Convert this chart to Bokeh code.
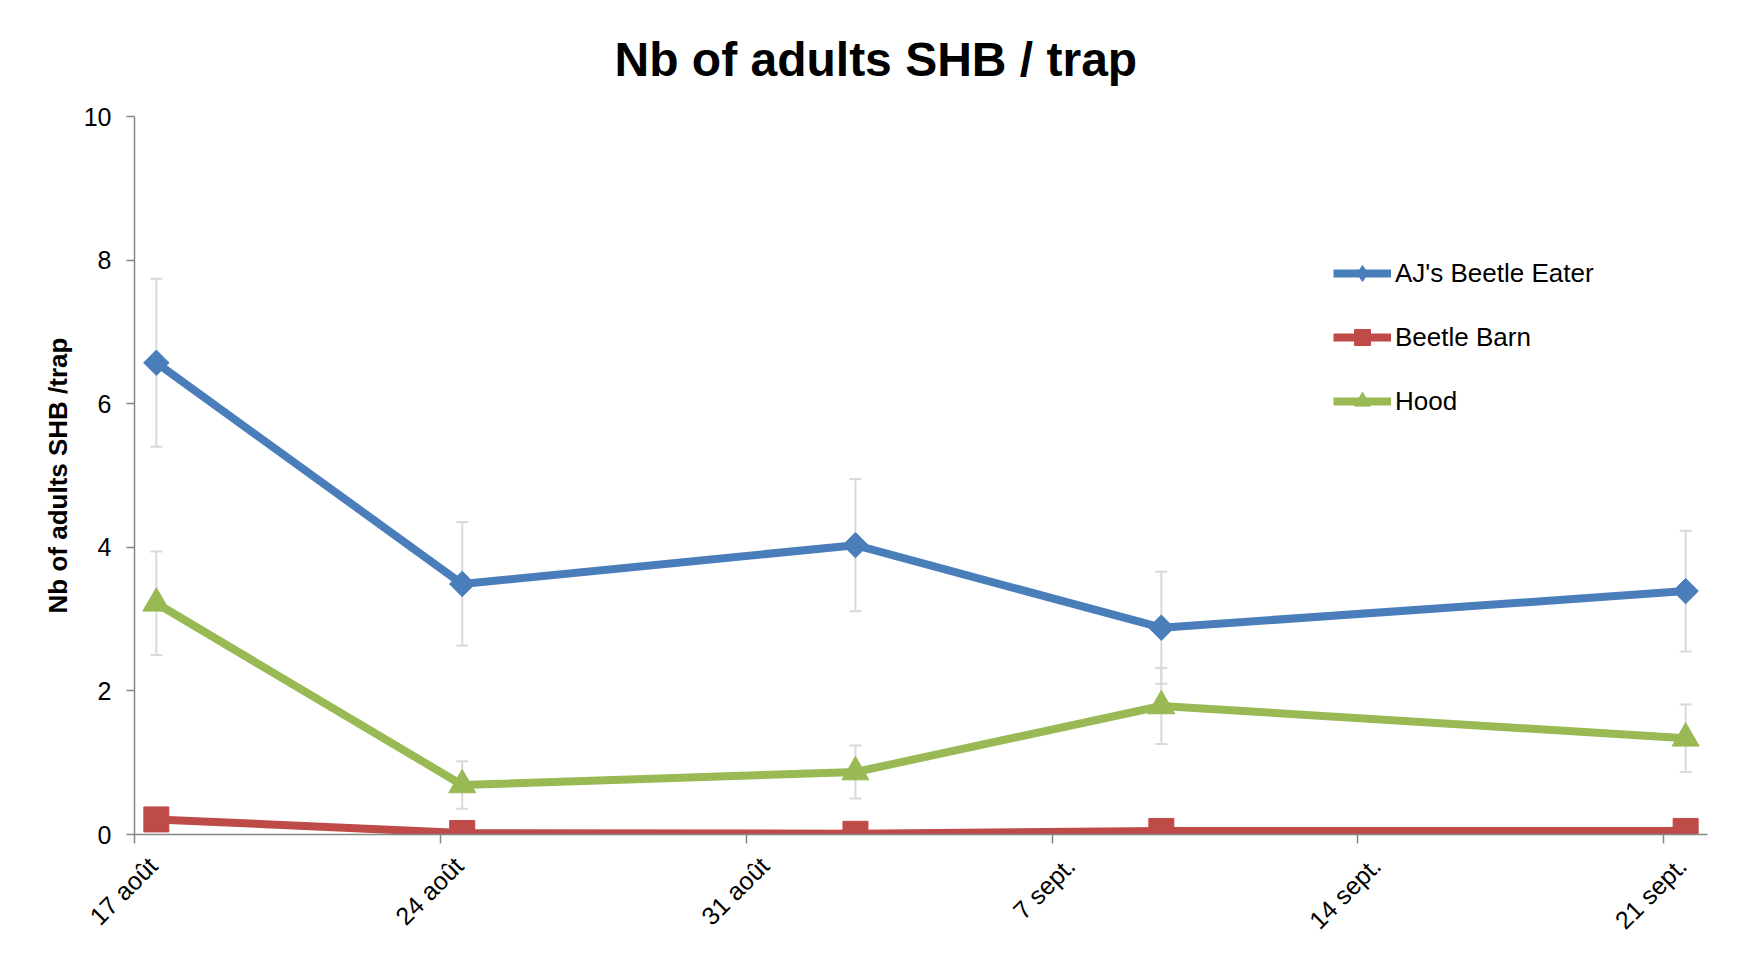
from math import pi
import pandas as pd
from bokeh.plotting import figure
from bokeh.models import (ColumnDataSource, Range1d, FixedTicker, DatetimeAxis,
                          Whisker, TeeHead, Legend, LegendItem)
from bokeh.embed import file_html
from bokeh.resources import INLINE

# ---------------- data ----------------
sample_dates = ["2012-08-17", "2012-08-24", "2012-09-02", "2012-09-09", "2012-09-21"]
aj_mean = [6.57, 3.49, 4.03, 2.88, 3.39]
aj_err = [1.17, 0.86, 0.92, 0.78, 0.84]
barn_mean = [0.21, 0.02, 0.01, 0.05, 0.05]
hood_mean = [3.22, 0.69, 0.87, 1.79, 1.34]
hood_err = [0.72, 0.33, 0.37, 0.53, 0.47]
series_names = ["AJ's Beetle Eater", "Beetle Barn", "Hood"]

tick_dates = ["2012-08-17", "2012-08-24", "2012-08-31", "2012-09-07", "2012-09-14", "2012-09-21"]
tick_labels = ["17 août", "24 août", "31 août", "7 sept.", "14 sept.", "21 sept."]
y_ticks = [0, 2, 4, 6, 8, 10]

title_text = "Nb of adults SHB / trap"
y_title = "Nb of adults SHB /trap"

# ---------------- style ----------------
FONT = "Liberation Sans"
BLUE, RED, GREEN = "#4A7EBB", "#BE4B48", "#98B954"
AXIS = "#868686"
ERR = "#D9D9D9"
LW = 8


def ms(d):
    return int(pd.Timestamp(d).value // 10**6)


DAY = 86400000
xs = [pd.Timestamp(d) + pd.Timedelta(hours=12) for d in sample_dates]

src = ColumnDataSource(dict(
    x=xs,
    aj=aj_mean, barn=barn_mean, hood=hood_mean,
    aj_lo=[m - e for m, e in zip(aj_mean, aj_err)],
    aj_hi=[m + e for m, e in zip(aj_mean, aj_err)],
    hood_lo=[m - e for m, e in zip(hood_mean, hood_err)],
    hood_hi=[m + e for m, e in zip(hood_mean, hood_err)],
))

p = figure(width=1734, height=954, x_axis_type="datetime",
           output_backend="svg", toolbar_location=None,
           x_range=Range1d(pd.Timestamp("2012-08-17"), pd.Timestamp("2012-09-22")),
           y_range=Range1d(0, 10),
           min_border_left=134, min_border_right=27,
           min_border_top=116, min_border_bottom=120)
p.outline_line_color = None
p.xgrid.grid_line_color = None
p.ygrid.grid_line_color = None
p.background_fill_color = "white"
p.border_fill_color = "white"

# title
p.title.text = title_text
p.title.align = "left"
p.title.offset = 480
p.title.standoff = 61
p.title.text_font = FONT
p.title.text_font_size = "48px"
p.title.text_font_style = "bold"
p.title.text_color = "black"

# y axis
ya = p.yaxis[0]
ya.ticker = FixedTicker(ticks=y_ticks)
ya.axis_label = y_title
ya.axis_label_text_font = FONT
ya.axis_label_text_font_size = "26px"
ya.axis_label_text_font_style = "bold"
ya.axis_label_text_color = "black"
ya.axis_label_standoff = 8
ya.major_label_text_font = FONT
ya.major_label_text_font_size = "25px"
ya.major_label_text_color = "black"
ya.major_label_standoff = 15
ya.axis_line_color = AXIS
ya.axis_line_width = 1.5
ya.major_tick_line_color = AXIS
ya.major_tick_line_width = 1.5
ya.major_tick_out = 8
ya.major_tick_in = 0
ya.minor_tick_line_color = None

# x axis with tick marks (labels drawn by second axis)
xa = p.xaxis[0]
xa.ticker = FixedTicker(ticks=[ms(d) for d in tick_dates])
xa.major_label_overrides = {ms(d): "" for d in tick_dates}
xa.major_label_text_font_size = "1px"
xa.major_label_standoff = 0
xa.axis_line_color = AXIS
xa.axis_line_width = 1.5
xa.major_tick_line_color = AXIS
xa.major_tick_line_width = 1.5
xa.major_tick_out = 9
xa.major_tick_in = 0
xa.minor_tick_line_color = None

# x tick labels, offset slightly to the right like the original
shift = int(0.42 * DAY)
lab_ticks = [ms(d) + shift for d in tick_dates]
xb = DatetimeAxis(ticker=FixedTicker(ticks=lab_ticks),
                  major_label_overrides={t: l for t, l in zip(lab_ticks, tick_labels)})
xb.axis_line_color = None
xb.major_tick_line_color = None
xb.minor_tick_line_color = None
xb.major_tick_out = 0
xb.major_tick_in = 0
xb.major_label_orientation = pi / 4
xb.major_label_standoff = 18
xb.major_label_text_font = FONT
xb.major_label_text_font_size = "25px"
xb.major_label_text_color = "black"
p.add_layout(xb, "below")

# error bars
for lo, hi in (("aj_lo", "aj_hi"), ("hood_lo", "hood_hi")):
    w = Whisker(source=src, base="x", lower=lo, upper=hi, dimension="height",
                line_color=ERR, line_width=2,
                lower_head=TeeHead(size=12, line_color=ERR, line_width=2),
                upper_head=TeeHead(size=12, line_color=ERR, line_width=2))
    p.add_layout(w)

# series
aj_line = p.line("x", "aj", source=src, line_color=BLUE, line_width=LW, line_join="round")
aj_leg = p.scatter("x", "aj", source=src, marker="diamond", size=16,
                   fill_color=BLUE, line_color=BLUE)
p.scatter("x", "aj", source=src, marker="square", size=18, angle=pi / 4,
          fill_color=BLUE, line_color=BLUE)

barn_line = p.line("x", "barn", source=src, line_color=RED, line_width=LW, line_join="round")
barn_mk = p.scatter("x", "barn", source=src, marker="square", size=25,
                    fill_color=RED, line_color=RED)

hood_line = p.line("x", "hood", source=src, line_color=GREEN, line_width=LW, line_join="round")
hood_mk = p.scatter("x", "hood", source=src, marker="triangle", size=27,
                    fill_color=GREEN, line_color=GREEN)

legend = Legend(items=[
    LegendItem(label=series_names[0], renderers=[aj_line, aj_leg]),
    LegendItem(label=series_names[1], renderers=[barn_line, barn_mk]),
    LegendItem(label=series_names[2], renderers=[hood_line, hood_mk]),
], location=(1199, 413), orientation="vertical",
    glyph_width=58, glyph_height=40, spacing=24, padding=0, margin=0,
    label_standoff=4, border_line_color=None, background_fill_alpha=0,
    label_text_font=FONT, label_text_font_size="26px", label_text_color="black")
p.add_layout(legend)

open("out.html", "w").write(file_html(p, INLINE))
